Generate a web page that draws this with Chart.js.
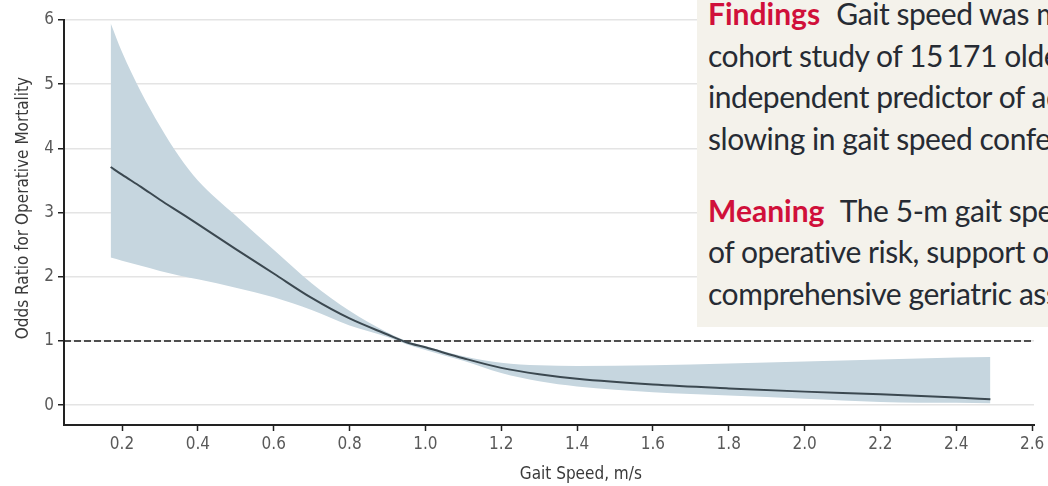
<!DOCTYPE html>
<html>
<head>
<meta charset="utf-8">
<script src="https://cdn.jsdelivr.net/npm/chart.js@4.4.1/dist/chart.umd.min.js"></script>
<style>
  html, body { margin: 0; padding: 0; background: #fff; overflow: hidden; }
  .wrap { position: relative; width: 1048px; height: 486px; }
  .key-points {
    position: absolute; left: 697px; top: -7px; width: 420px; height: 334px;
    background: #f4f2eb; font-family: Lato, "Open Sans", sans-serif; font-size: 30px;
    line-height: 41.5px; color: #262b33; white-space: nowrap; overflow: hidden;
    letter-spacing: -0.45px;
  }
  .key-points p { margin: 0 0 30.5px 11px; }
  .key-points b { color: #d0103a; font-weight: 700; margin-right: 9px; letter-spacing: 0; }
</style>
</head>
<body>
<div class="wrap">
  <canvas id="gaitChart"></canvas>
  <div class="key-points">
    <p><b>Findings</b> Gait speed was measured in a<br>cohort study of 15&#8201;171 older adults and was an<br>independent predictor of adverse outcomes; each<br>slowing in gait speed conferred higher risk.</p>
    <p><b>Meaning</b> The 5-m gait speed test is a simple measure<br>of operative risk, support of the need for a<br>comprehensive geriatric assessment.</p>
  </div>
</div>
<script>
// gait speed (m/s) and odds ratio curve with 95% CI
const gaitSpeed = [0.17, 0.2, 0.25, 0.3, 0.35, 0.4, 0.5, 0.6, 0.7, 0.8, 0.9, 0.95, 1.0, 1.1, 1.2, 1.3, 1.4, 1.6, 1.8, 2.0, 2.2, 2.4, 2.49];
const oddsRatio = [3.71, 3.59, 3.4, 3.2, 3.01, 2.82, 2.43, 2.05, 1.67, 1.35, 1.1, 0.98, 0.9, 0.73, 0.58, 0.48, 0.41, 0.32, 0.26, 0.21, 0.17, 0.12, 0.09];
const upperCI = [5.95, 5.5, 4.88, 4.35, 3.88, 3.5, 2.95, 2.42, 1.9, 1.47, 1.13, 1.0, 0.92, 0.76, 0.66, 0.62, 0.61, 0.62, 0.65, 0.68, 0.71, 0.74, 0.75];
const lowerCI = [2.3, 2.25, 2.17, 2.09, 2.02, 1.96, 1.83, 1.68, 1.48, 1.24, 1.06, 0.95, 0.86, 0.69, 0.5, 0.37, 0.29, 0.2, 0.15, 0.1, 0.05, 0.035, 0.03];
const xTickValues = [0.2, 0.4, 0.6, 0.8, 1.0, 1.2, 1.4, 1.6, 1.8, 2.0, 2.2, 2.4, 2.6];
const yTickValues = [0, 1, 2, 3, 4, 5, 6];
const referenceOR = 1;
const xMin = 0.047, xMax = 2.605;

const pts = (ys) => gaitSpeed.map((x, i) => ({ x: x, y: ys[i] }));
const axisFamily = "'DejaVu Sans Condensed', 'DejaVu Sans', sans-serif";
const tickFont = { family: axisFamily, size: 17 };

// axis titles drawn by hand so they sit where the original has them
const axisTitles = {
  id: "axisTitles",
  afterDraw(chart) {
    const ctx = chart.ctx;
    ctx.save();
    ctx.fillStyle = "#3a3a3a";
    ctx.font = "17px " + axisFamily;
    ctx.textAlign = "center";
    ctx.textBaseline = "middle";
    ctx.fillText("Gait Speed, m/s", chart.scales.x.getPixelForValue(1.41), 475);
    ctx.translate(24, chart.scales.y.getPixelForValue(3.07));
    ctx.rotate(-Math.PI / 2);
    ctx.fillText("Odds Ratio for Operative Mortality", 0, 0);
    ctx.restore();
  }
};

new Chart("gaitChart", {
  type: "line",
  data: {
    datasets: [
      {
        label: "Upper CI",
        data: pts(upperCI),
        borderWidth: 0,
        pointRadius: 0,
        backgroundColor: "#c6d6df",
        fill: "+1",
        order: 3,
        cubicInterpolationMode: "monotone",
      },
      {
        label: "Lower CI",
        data: pts(lowerCI),
        borderWidth: 0,
        pointRadius: 0,
        fill: false,
        order: 3,
        cubicInterpolationMode: "monotone",
      },
      {
        label: "Reference",
        data: [{ x: xMin, y: referenceOR }, { x: xMax, y: referenceOR }],
        borderColor: "#1a1a1a",
        borderWidth: 1.5,
        borderDash: [7, 3],
        pointRadius: 0,
        fill: false,
        order: 1,
      },
      {
        label: "Odds ratio",
        data: pts(oddsRatio),
        borderColor: "#3b4850",
        borderWidth: 2,
        pointRadius: 0,
        fill: false,
        order: 0,
        cubicInterpolationMode: "monotone",
      },
    ],
  },
  options: {
    responsive: true,
    maintainAspectRatio: false,
    animation: false,
    layout: { padding: { top: 20, right: 14, left: 0, bottom: 0 } },
    plugins: { legend: { display: false }, tooltip: { enabled: false } },
    scales: {
      x: {
        type: "linear",
        min: xMin,
        max: xMax,
        afterBuildTicks: (s) => { s.ticks = xTickValues.map((v) => ({ value: v })); },
        afterFit: (s) => { s.height = 61; },
        ticks: {
          color: "#595959",
          font: tickFont,
          padding: 3,
          maxRotation: 0,
          callback: (v) => Number(v).toFixed(1),
        },
        grid: { drawOnChartArea: false, tickLength: 6, tickColor: "#222", tickWidth: 1.5 },
        border: { color: "#222", width: 2 },
      },
      y: {
        min: -0.31,
        max: 6,
        afterBuildTicks: (s) => { s.ticks = yTickValues.map((v) => ({ value: v })); },
        afterFit: (s) => { s.width = 64; },
        ticks: { color: "#595959", font: tickFont, padding: 4 },
        grid: { color: "#e4e4e4", lineWidth: 1.5, tickLength: 6, tickColor: "#222", tickWidth: 1.5 },
        border: { color: "#222", width: 2 },
      },
    },
  },
  plugins: [axisTitles],
});
</script>
</body>
</html>
